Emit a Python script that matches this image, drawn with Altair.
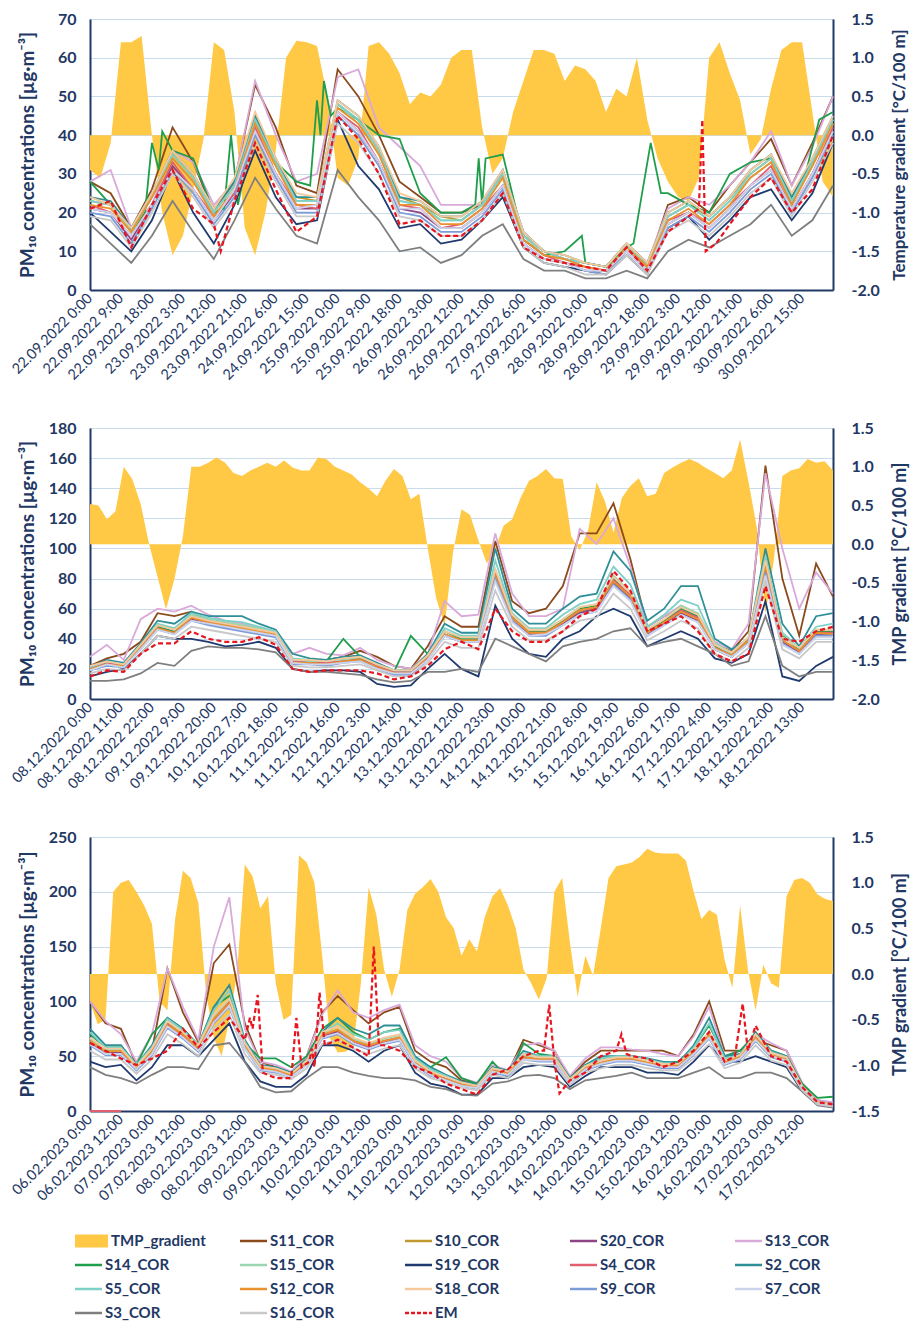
import altair as alt
import pandas as pd

FONT = "Lato"
NAVY = "#1F3864"
GRID = "#C9DCEB"
YELLOW = "#FFC845"
EM_COLOR = "#E8141E"

SERIES = ["S11_COR", "S10_COR", "S20_COR", "S13_COR", "S14_COR", "S15_COR", "S19_COR", "S4_COR",
          "S2_COR", "S5_COR", "S12_COR", "S18_COR", "S9_COR", "S7_COR", "S3_COR", "S16_COR", "EM"]
COLORS = ["#8B4A1C", "#C09A2E", "#8E4585", "#D9A9D9", "#1E9E4A", "#99D5B0", "#1F3A6E", "#E06070",
          "#2E8F96", "#7FD1C7", "#E8912D", "#F5C99B", "#7C9CD8", "#CDD3EA", "#7F7F7F", "#C8C8C8", EM_COLOR]

# ---------------- Panel 1: 22.09.2022 - 30.09.2022 ----------------
P1_START = (2022, 9, 22)
P1_TMP = [  # every 3 h
    -0.45, -0.55, -0.1, 1.2, 1.2, 1.28, 0.0, -1.0,
    -1.55, -1.3, -0.7, -0.05, 1.2, 1.1, 0.3, -1.2,
    -1.55, -1.0, -0.2, 1.0, 1.22, 1.2, 1.15, 0.5,
    -0.55, -0.65, -0.3, 1.15, 1.2, 1.05, 0.8, 0.4,
    0.55, 0.5, 0.65, 1.0, 1.1, 1.1, 0.1, -0.5,
    -0.3, 0.3, 0.7, 1.1, 1.1, 1.05, 0.7, 0.9,
    0.85, 0.7, 0.3, 0.6, 0.5, 1.0, 0.2, -0.3,
    -0.6, -0.8, -0.85, -0.55, 1.0, 1.2, 0.8, 0.45,
    -0.25, -0.05, 0.6, 1.1, 1.2, 1.2, 0.3, -0.6,
    -0.8]
P1 = {  # every 6 h
    "S11_COR": [28, 25, 16, 26, 42, 33, 20, 28, 53, 42, 27, 25, 57, 50, 40, 28, 24, 20, 20, 22,
                30, 14, 10, 8, 7, 6, 12, 6, 22, 24, 20, 27, 33, 39, 27, 38, 50],
    "S10_COR": [23, 22, 15, 24, 35, 29, 20, 27, 44, 33, 24, 23, 48, 44, 36, 24, 22, 19, 18, 22,
                30, 14, 10, 8, 7, 6, 12, 7, 19, 22, 19, 24, 30, 34, 24, 33, 44],
    "S20_COR": [21, 20, 13, 22, 32, 26, 18, 25, 41, 30, 21, 21, 46, 41, 33, 21, 20, 16, 16, 20,
                27, 12, 8, 7, 5, 5, 10, 5, 17, 20, 16, 21, 27, 31, 21, 30, 41],
    "S13_COR": [28, 31, 16, 22, 36, 33, 22, 28, 54, 40, 28, 30, 55, 57, 42, 37, 32, 22, 22, 22,
                31, 15, 10, 8, 7, 6, 12, 7, 21, 24, 22, 27, 33, 41, 27, 37, 50],
    "S15_COR": [23, 22, 15, 24, 34, 28, 20, 27, 43, 32, 23, 23, 48, 43, 35, 23, 22, 18, 18, 22,
                29, 14, 9, 8, 6, 5, 11, 6, 19, 22, 18, 23, 29, 33, 23, 32, 43],
    "S19_COR": [20, 15, 10, 18, 31, 20, 12, 22, 36, 24, 17, 18, 44, 32, 26, 16, 17, 12, 13, 18,
                24, 11, 7, 6, 5, 4, 9, 4, 16, 19, 13, 18, 24, 26, 18, 25, 38],
    "S4_COR": [22, 20, 14, 22, 33, 26, 19, 25, 42, 30, 22, 21, 46, 42, 33, 22, 21, 16, 17, 21,
               27, 13, 9, 7, 6, 5, 10, 6, 18, 20, 17, 22, 27, 32, 21, 30, 42],
    "S2_COR": [24, 23, 16, 25, 36, 30, 21, 28, 45, 34, 24, 24, 49, 45, 37, 24, 23, 19, 19, 23,
               31, 15, 10, 9, 7, 6, 12, 7, 20, 23, 19, 24, 31, 35, 24, 34, 45],
    "S5_COR": [23, 22, 15, 24, 35, 29, 20, 27, 44, 33, 23, 23, 48, 44, 36, 23, 22, 18, 18, 22,
               30, 14, 10, 8, 7, 6, 12, 6, 19, 22, 18, 23, 30, 34, 23, 33, 44],
    "S12_COR": [22, 21, 15, 24, 34, 28, 19, 26, 43, 32, 22, 22, 47, 43, 35, 22, 22, 17, 17, 21,
                29, 13, 9, 8, 6, 5, 11, 6, 18, 21, 17, 22, 29, 33, 22, 32, 43],
    "S18_COR": [24, 22, 16, 25, 36, 30, 21, 29, 46, 34, 25, 24, 49, 45, 37, 25, 23, 19, 19, 23,
                31, 15, 10, 9, 7, 6, 12, 7, 20, 23, 19, 24, 31, 35, 25, 34, 45],
    "S9_COR": [20, 19, 12, 21, 31, 25, 17, 24, 40, 29, 20, 20, 45, 40, 32, 20, 19, 15, 15, 19,
               26, 12, 8, 7, 5, 4, 10, 5, 16, 19, 15, 20, 26, 30, 20, 29, 40],
    "S7_COR": [21, 20, 14, 22, 31, 26, 18, 26, 41, 30, 21, 22, 46, 41, 33, 21, 21, 16, 16, 20,
               27, 12, 8, 7, 5, 5, 10, 5, 17, 20, 16, 21, 27, 31, 21, 30, 41],
    "S3_COR": [17, 12, 7, 14, 23, 15, 8, 18, 29, 21, 14, 12, 31, 24, 18, 10, 11, 7, 9, 14,
               17, 8, 5, 5, 3, 3, 5, 3, 10, 13, 11, 14, 17, 22, 14, 18, 27],
    "S16_COR": [19, 18, 11, 20, 30, 24, 16, 23, 38, 28, 19, 19, 43, 38, 30, 19, 18, 14, 14, 18,
                25, 11, 7, 6, 4, 4, 9, 4, 15, 18, 14, 19, 25, 29, 19, 28, 38],
}
# series read at irregular hours (hour, value) to keep narrow spikes
P1_S14 = [(0, 28), (6, 22), (12, 15), (16, 20), (18, 38), (20, 31), (21, 41), (24, 36), (30, 34),
          (36, 20), (39, 21), (41, 40), (43, 22), (48, 44), (54, 33), (60, 28), (64, 27), (66, 49),
          (67, 40), (68, 54), (70, 45), (72, 47), (78, 44), (84, 40), (90, 39), (96, 25), (102, 20),
          (108, 20), (112, 22), (113, 34), (114, 22), (115, 34), (120, 35), (126, 13), (132, 9),
          (138, 10), (143, 14), (144, 7), (150, 6), (156, 11), (158, 12), (163, 38), (166, 25),
          (168, 25), (174, 22), (180, 20), (186, 30), (192, 33), (198, 34), (204, 22), (208, 30),
          (212, 44), (216, 46)]
P1_EM = [(0, 21), (6, 23), (12, 11), (18, 22), (24, 31), (30, 21), (36, 17), (38, 10), (42, 23),
         (48, 38), (54, 26), (60, 15), (66, 19), (72, 45), (78, 39), (84, 30), (90, 17), (96, 18),
         (102, 14), (108, 14), (114, 18), (120, 25), (126, 11), (132, 8), (138, 7), (144, 6),
         (150, 5), (156, 11), (162, 5), (168, 15), (174, 19), (177, 21), (178, 44), (179, 10),
         (182, 12), (186, 17), (192, 24), (198, 29), (204, 20), (210, 26), (216, 40)]

# ---------------- Panel 2: 08.12.2022 - 18.12.2022 ----------------
P2_START = (2022, 12, 8)
P2_TMP = [
    0.52, 0.5, 0.32, 0.42, 1.0, 0.84, 0.52, 0.0,
    -0.42, -0.84, -0.45, 0.1, 1.0, 1.0, 1.05, 1.12,
    1.05, 0.92, 0.88, 0.95, 1.0, 1.05, 1.0, 1.08,
    0.99, 0.95, 0.95, 1.12, 1.1, 1.0, 0.95, 0.9,
    0.8, 0.72, 0.62, 0.82, 0.97, 0.88, 0.58, 0.65,
    -0.05, -0.7, -1.05, -0.1, 0.45, 0.38, 0.05, -0.25,
    -0.06, 0.24, 0.32, 0.6, 0.82, 0.88, 0.97, 0.85,
    0.84, 0.1, -0.08, 0.18, 0.8, 0.55, 0.15, 0.6,
    0.75, 0.85, 0.62, 0.65, 0.92, 0.99, 1.05, 1.1,
    1.05, 0.98, 0.92, 0.85, 0.95, 1.35, 0.8, 0.2,
    -0.9, -0.2, 0.88, 0.95, 0.98, 1.1, 1.05, 1.07,
    0.95]
P2 = {
    "S11_COR": [22, 27, 30, 38, 57, 55, 58, 52, 48, 47, 46, 42, 26, 26, 26, 28, 32, 28, 22, 20,
                35, 55, 48, 48, 105, 65, 57, 60, 75, 110, 110, 130, 93, 48, 55, 60, 55, 36, 32, 45,
                155, 80, 42, 90, 68],
    "S10_COR": [21, 25, 23, 36, 49, 46, 54, 52, 50, 48, 46, 43, 25, 25, 24, 26, 27, 22, 18, 18,
                28, 45, 40, 40, 84, 55, 44, 44, 51, 58, 60, 78, 68, 42, 50, 58, 52, 33, 28, 38,
                85, 38, 30, 42, 42],
    "S20_COR": [19, 23, 21, 34, 47, 44, 53, 50, 48, 46, 44, 42, 24, 24, 23, 25, 26, 21, 17, 17,
                27, 42, 38, 38, 80, 52, 43, 43, 50, 57, 60, 77, 67, 43, 50, 57, 52, 33, 28, 38,
                85, 38, 31, 43, 43],
    "S13_COR": [28, 36, 26, 53, 60, 58, 62, 56, 52, 50, 47, 42, 30, 34, 30, 29, 34, 26, 22, 20,
                30, 65, 55, 56, 110, 70, 55, 55, 60, 113, 103, 120, 88, 48, 55, 62, 56, 38, 33, 50,
                150, 100, 60, 84, 70],
    "S14_COR": [20, 25, 22, 36, 48, 45, 55, 52, 50, 48, 45, 42, 26, 25, 25, 40, 28, 22, 18, 42,
                30, 45, 40, 40, 82, 55, 45, 45, 52, 60, 62, 80, 68, 45, 52, 60, 55, 35, 30, 40,
                88, 42, 33, 45, 45],
    "S15_COR": [21, 24, 22, 35, 49, 46, 56, 53, 51, 49, 47, 44, 26, 25, 25, 26, 28, 23, 18, 18,
                29, 45, 41, 41, 86, 56, 46, 46, 53, 61, 63, 82, 71, 46, 53, 62, 57, 36, 30, 41,
                92, 41, 34, 46, 46],
    "S19_COR": [15, 18, 20, 30, 42, 40, 40, 38, 35, 36, 38, 34, 20, 18, 19, 19, 18, 10, 8, 9,
                20, 30, 20, 15, 62, 40, 30, 28, 40, 45, 55, 60, 55, 35, 40, 45, 40, 27, 24, 30,
                65, 15, 12, 22, 28],
    "S4_COR": [20, 24, 22, 35, 47, 44, 54, 51, 49, 47, 45, 43, 25, 24, 24, 25, 26, 22, 18, 18,
               28, 43, 39, 39, 83, 54, 44, 44, 51, 59, 61, 79, 69, 44, 51, 59, 54, 34, 29, 39,
               88, 39, 32, 44, 44],
    "S2_COR": [21, 26, 24, 37, 52, 50, 58, 55, 55, 55, 50, 46, 30, 27, 26, 28, 29, 24, 19, 19,
               30, 50, 44, 44, 100, 60, 50, 50, 60, 68, 70, 98, 85, 52, 60, 75, 75, 40, 33, 40,
               100, 50, 35, 55, 57],
    "S5_COR": [21, 25, 23, 36, 50, 47, 57, 54, 52, 51, 48, 45, 27, 26, 25, 27, 28, 23, 19, 19,
               29, 47, 42, 42, 92, 57, 47, 47, 56, 63, 66, 88, 76, 48, 56, 66, 62, 37, 31, 41,
               95, 44, 34, 48, 50],
    "S12_COR": [20, 23, 22, 34, 47, 44, 54, 51, 49, 47, 45, 43, 24, 24, 23, 25, 26, 21, 17, 17,
                27, 43, 39, 39, 82, 54, 44, 44, 51, 59, 61, 78, 68, 44, 51, 58, 53, 34, 29, 39,
                88, 39, 32, 44, 43],
    "S18_COR": [22, 25, 23, 36, 49, 46, 55, 52, 50, 48, 46, 44, 26, 26, 25, 27, 28, 23, 19, 19,
                29, 45, 41, 41, 86, 56, 46, 46, 53, 61, 63, 81, 71, 46, 53, 61, 56, 36, 31, 41,
                92, 41, 34, 46, 46],
    "S9_COR": [19, 22, 21, 33, 46, 43, 52, 49, 47, 45, 43, 41, 23, 23, 22, 24, 25, 20, 16, 16,
               26, 42, 38, 38, 80, 52, 42, 42, 49, 56, 58, 76, 66, 42, 49, 56, 51, 33, 28, 37,
               84, 37, 30, 42, 42],
    "S7_COR": [19, 23, 21, 33, 46, 43, 52, 50, 48, 46, 44, 42, 24, 23, 23, 24, 25, 20, 17, 17,
               26, 42, 38, 38, 78, 51, 42, 43, 49, 56, 58, 75, 65, 42, 49, 56, 51, 33, 28, 37,
               82, 36, 30, 41, 41],
    "S3_COR": [12, 12, 13, 17, 24, 22, 32, 35, 34, 34, 33, 31, 20, 18, 18, 17, 16, 13, 11, 12,
               18, 18, 20, 18, 40, 35, 30, 25, 35, 38, 40, 45, 47, 35, 38, 40, 35, 30, 22, 25,
               55, 22, 15, 18, 18],
    "S16_COR": [17, 20, 19, 30, 42, 40, 48, 46, 44, 42, 40, 38, 22, 21, 21, 22, 23, 19, 15, 15,
                24, 38, 34, 34, 72, 48, 39, 39, 45, 52, 54, 70, 60, 39, 45, 52, 47, 30, 25, 34,
                78, 33, 27, 38, 38],
    "EM": [15, 19, 18, 30, 37, 37, 45, 40, 38, 38, 41, 36, 20, 18, 19, 19, 19, 17, 13, 15,
           22, 33, 38, 33, 60, 45, 38, 38, 45, 55, 60, 85, 72, 45, 50, 55, 45, 30, 25, 30,
           75, 40, 38, 45, 48],
}

# ---------------- Panel 3: 06.02.2023 - 17.02.2023 ----------------
P3_START = (2023, 2, 6)
P3_TMP = [
    -0.3, -0.55, -0.5, 0.9, 1.0, 1.03, 0.9, 0.75,
    0.55, -0.3, -0.4, 0.6, 1.13, 1.05, 0.78, -0.2,
    -0.7, -0.9, -0.5, 0.0, 1.2, 1.07, 0.72, 0.85,
    -0.1, -0.5, -0.45, 1.3, 1.22, 1.0, 0.2, -0.7,
    -0.86, -0.85, -0.8, -0.1, 0.95, 0.65, 0.05, -0.25,
    0.05, 0.7, 0.88, 0.95, 1.04, 0.9, 0.62, 0.5,
    0.2, 0.38, 0.25, 0.62, 0.85, 0.94, 0.75, 0.5,
    0.05, -0.1, -0.28, -0.05, 0.9, 1.05, 0.35, -0.25,
    0.2, -0.02, 0.5, 1.05, 1.18, 1.2, 1.22, 1.28,
    1.37, 1.33, 1.32, 1.32, 1.32, 1.24, 0.9, 0.6,
    0.7, 0.65, 0.15, -0.15, 0.75, 0.05, -0.4, 0.1,
    -0.1, -0.15, 0.85, 1.03, 1.05, 1.0, 0.87, 0.82,
    0.8]
P3 = {
    "S11_COR": [100, 80, 75, 42, 55, 130, 90, 63, 135, 152, 80, 45, 40, 35, 50, 90, 105, 92, 80, 90,
                95, 55, 45, 40, 28, 25, 40, 35, 65, 60, 55, 30, 45, 55, 55, 55, 55, 55, 50, 70,
                100, 55, 55, 65, 60, 55, 25, 10, 7],
    "S10_COR": [66, 55, 55, 40, 55, 80, 70, 57, 83, 98, 60, 40, 37, 33, 44, 68, 73, 64, 58, 63,
                66, 44, 34, 29, 24, 21, 37, 34, 49, 47, 47, 27, 39, 44, 47, 47, 44, 41, 41, 53,
                68, 44, 49, 66, 51, 47, 21, 8, 6],
    "S20_COR": [62, 53, 53, 38, 53, 77, 67, 56, 82, 96, 58, 38, 36, 32, 43, 68, 72, 63, 58, 63,
                65, 43, 34, 29, 24, 21, 37, 34, 48, 46, 46, 27, 39, 43, 46, 46, 43, 40, 40, 53,
                68, 43, 48, 65, 50, 46, 21, 7, 5],
    "S13_COR": [100, 82, 70, 45, 70, 130, 95, 65, 150, 195, 75, 45, 42, 36, 50, 88, 110, 90, 85, 92,
                97, 60, 50, 45, 30, 26, 42, 37, 60, 62, 55, 32, 48, 58, 58, 56, 55, 52, 50, 68,
                95, 50, 55, 70, 62, 55, 26, 10, 8],
    "S14_COR": [70, 58, 58, 42, 70, 85, 75, 60, 95, 105, 62, 48, 48, 40, 50, 75, 85, 72, 65, 72,
                75, 48, 40, 49, 30, 25, 45, 30, 62, 52, 50, 30, 42, 48, 50, 50, 47, 44, 45, 58,
                78, 50, 55, 70, 55, 50, 25, 12, 13],
    "S15_COR": [66, 56, 56, 41, 56, 82, 72, 59, 87, 102, 61, 41, 39, 34, 46, 71, 77, 66, 61, 66,
                69, 46, 36, 31, 26, 23, 39, 36, 51, 49, 49, 29, 41, 46, 49, 49, 46, 43, 43, 56,
                72, 46, 51, 69, 53, 49, 23, 8, 6],
    "S19_COR": [45, 40, 42, 28, 40, 60, 60, 50, 65, 80, 45, 27, 22, 22, 33, 60, 60, 55, 45, 55,
                60, 35, 25, 22, 15, 15, 30, 30, 40, 42, 40, 22, 32, 40, 40, 40, 35, 35, 33, 45,
                60, 45, 45, 50, 45, 40, 18, 6, 4],
    "S4_COR": [0, 0, 0, None, 54, 79, 69, 57, 84, 99, 59, 39, 37, 32, 44, 69, 74, 64, 59, 64,
               67, 44, 34, 29, 24, 21, 37, 34, 49, 47, 47, 27, 39, 44, 47, 47, 44, 41, 41, 54,
               69, 44, 49, 67, 51, 47, 21, 7, 5],
    "S2_COR": [75, 60, 60, 42, 60, 85, 75, 60, 95, 115, 65, 42, 40, 35, 47, 72, 85, 75, 70, 78,
               78, 50, 40, 33, 27, 24, 40, 37, 55, 50, 50, 30, 42, 50, 50, 50, 48, 45, 44, 60,
               85, 50, 52, 72, 55, 50, 23, 8, 6],
    "S5_COR": [72, 58, 58, 42, 58, 84, 74, 60, 92, 110, 63, 41, 39, 34, 46, 71, 80, 70, 65, 72,
               74, 48, 38, 32, 26, 23, 39, 36, 53, 50, 50, 29, 41, 48, 50, 50, 47, 44, 43, 58,
               80, 48, 51, 70, 54, 49, 22, 8, 6],
    "S12_COR": [64, 54, 55, 39, 54, 78, 70, 57, 84, 98, 59, 40, 37, 33, 44, 70, 74, 64, 60, 64,
                67, 44, 35, 29, 24, 22, 37, 34, 49, 47, 48, 27, 39, 44, 47, 48, 44, 41, 42, 54,
                69, 44, 50, 67, 51, 47, 21, 8, 6],
    "S18_COR": [67, 57, 57, 41, 57, 82, 72, 60, 88, 103, 62, 41, 39, 34, 46, 72, 77, 67, 62, 67,
                70, 46, 36, 31, 26, 23, 39, 36, 52, 49, 49, 29, 41, 46, 49, 49, 46, 43, 43, 56,
                72, 46, 51, 70, 53, 49, 23, 8, 6],
    "S9_COR": [60, 51, 51, 37, 51, 76, 66, 54, 80, 95, 57, 37, 35, 31, 42, 66, 70, 61, 56, 61,
               64, 42, 32, 28, 23, 20, 35, 32, 47, 45, 45, 26, 37, 42, 45, 45, 42, 39, 39, 51,
               66, 42, 47, 64, 49, 45, 20, 7, 5],
    "S7_COR": [61, 52, 52, 38, 52, 77, 67, 55, 81, 96, 57, 38, 36, 31, 42, 67, 71, 62, 57, 62,
               65, 43, 33, 28, 23, 21, 36, 33, 47, 46, 46, 26, 38, 43, 46, 46, 43, 40, 40, 52,
               67, 43, 48, 65, 50, 46, 21, 7, 5],
    "S3_COR": [40, 33, 30, 25, 33, 40, 40, 38, 60, 62, 45, 22, 17, 18, 30, 40, 40, 35, 32, 30,
               30, 28, 22, 20, 15, 14, 25, 27, 32, 33, 30, 20, 28, 30, 32, 35, 30, 30, 30, 35,
               40, 30, 30, 35, 35, 30, 18, 5, 3],
    "S16_COR": [55, 47, 47, 34, 47, 70, 61, 50, 75, 88, 52, 35, 33, 29, 39, 61, 65, 57, 52, 57,
                60, 39, 30, 26, 21, 19, 33, 30, 44, 42, 42, 24, 35, 39, 42, 42, 39, 37, 37, 48,
                61, 39, 44, 60, 46, 42, 19, 6, 4],
}
P3_EM = [(0, 62), (6, 55), (12, 48), (18, 42), (24, 48), (30, 55), (36, 75), (42, 58), (48, 72),
         (54, 85), (60, 65), (62, 85), (63, 75), (65, 106), (67, 35), (72, 30), (78, 30), (80, 85),
         (82, 40), (85, 45), (86, 57), (87, 40), (89, 108), (91, 60), (96, 65), (102, 58), (108, 50),
         (110, 150), (112, 60), (114, 60), (120, 55), (126, 40), (132, 35), (138, 25), (144, 20),
         (150, 15), (156, 33), (162, 38), (168, 50), (174, 55), (176, 55), (178, 97), (180, 45),
         (182, 16), (186, 28), (192, 35), (198, 50), (204, 55), (206, 70), (208, 52), (210, 50),
         (216, 48), (222, 40), (228, 45), (234, 55), (240, 72), (246, 45), (250, 50), (253, 98),
         (255, 55), (258, 78), (264, 50), (270, 45), (276, 22), (282, 8), (288, 6)]

IRREGULAR = {
    1: {"S14_COR": P1_S14, "EM": P1_EM},
    2: {},
    3: {"EM": P3_EM},
}

LEGEND_ITEMS = ["TMP_gradient", "S11_COR", "S10_COR", "S20_COR", "S13_COR",
                "S14_COR", "S15_COR", "S19_COR", "S4_COR", "S2_COR",
                "S5_COR", "S12_COR", "S18_COR", "S9_COR", "S7_COR",
                "S3_COR", "S16_COR", "EM"]

PM_TITLE = "PM₁₀ concentrations [µg·m⁻³]"


def make_panel(start, tmp, lines, irregular, span_h, tick_step, ymax, ystep, tmin, rtitle,
               rtitle_size, width, height):
    t0 = pd.Timestamp(year=start[0], month=start[1], day=start[2])

    def ts(h):
        return (t0 + pd.Timedelta(hours=h)).strftime("%Y-%m-%dT%H:%M:%S")

    def dt(h):
        t = t0 + pd.Timedelta(hours=h)
        return alt.DateTime(year=t.year, month=t.month, date=t.day, hours=t.hour)

    tmp_df = pd.DataFrame({"time": [ts(3 * i) for i in range(len(tmp))], "tmp": tmp})
    rows = []
    for s in SERIES:
        if s in irregular:
            pts = irregular[s]
        else:
            pts = [(6 * i, v) for i, v in enumerate(lines[s])]
        for h, v in pts:
            rows.append({"time": ts(h), "series": s, "value": v})
    ldf = pd.DataFrame(rows)

    x = alt.X("time:T",
              scale=alt.Scale(domain=[dt(0), dt(span_h)]),
              axis=alt.Axis(values=[dt(k * tick_step) for k in range(24)],
                            format="%d.%m.%Y %-H:%M", labelAngle=315, labelAlign="right",
                            labelBaseline="middle", labelOverlap=False, labelFlush=False,
                            ticks=False, grid=False, domainColor=NAVY, domainWidth=2,
                            labelColor=NAVY, labelFont=FONT, labelFontSize=14.5,
                            labelPadding=6, title=None))

    tvals = []
    v = tmin
    while v <= 1.5001:
        tvals.append(round(v, 1))
        v += 0.5
    yright = alt.Y("tmp:Q",
                   scale=alt.Scale(domain=[tmin, 1.5], nice=False, zero=False),
                   axis=alt.Axis(orient="right", values=tvals,
                                 labelExpr="replace(format(datum.value, '.1f'), '\u2212', '-')",
                                 grid=False, ticks=False, domainColor=NAVY, domainWidth=2,
                                 labelColor=NAVY, labelFont=FONT, labelFontWeight="bold",
                                 labelFontSize=16, labelPadding=18,
                                 title=rtitle, titleAngle=270, titleBaseline="top",
                                 titleColor=NAVY, titleFont=FONT, titleFontWeight="bold",
                                 titleFontSize=rtitle_size, titlePadding=12))
    area = alt.Chart(tmp_df).mark_area(color=YELLOW, interpolate="linear", opacity=1).encode(
        x=x, y=yright, y2=alt.datum(0))

    yleft = alt.Y("value:Q",
                  scale=alt.Scale(domain=[0, ymax], nice=False),
                  axis=alt.Axis(orient="left", values=list(range(0, ymax + 1, ystep)),
                                grid=True, gridColor=GRID, gridWidth=1.2, ticks=False,
                                domainColor=NAVY, domainWidth=2,
                                labelColor=NAVY, labelFont=FONT, labelFontWeight="bold",
                                labelFontSize=16, labelPadding=14,
                                minExtent=45, maxExtent=45,
                                title=PM_TITLE, titleColor=NAVY, titleFont=FONT,
                                titleFontWeight="bold", titleFontSize=19,
                                titlePadding=8))
    station = alt.Chart(ldf[ldf.series != "EM"]).mark_line(
        strokeWidth=1.8, invalid="break-paths-show-domains").encode(
        x=x, y=yleft,
        color=alt.Color("series:N", scale=alt.Scale(domain=SERIES, range=COLORS), legend=None))
    em = alt.Chart(ldf[ldf.series == "EM"]).mark_line(
        color=EM_COLOR, strokeDash=[5, 3], strokeWidth=2.2).encode(x=x, y=yleft)

    return alt.layer(area, alt.layer(station, em)).resolve_scale(y="independent").properties(
        width=width, height=height)


p1 = make_panel(P1_START, P1_TMP, P1, IRREGULAR[1], 216, 9, 70, 10, -2.0,
                "Temperature gradient [°C/100 m]", 17, 743, 271)
p2 = make_panel(P2_START, P2_TMP, P2, IRREGULAR[2], 264, 11, 180, 20, -2.0,
                "TMP gradient [°C/100 m]", 18, 743, 271)
p3 = make_panel(P3_START, P3_TMP, P3, IRREGULAR[3], 288, 12, 250, 50, -1.5,
                "TMP gradient [°C/100 m]", 18, 743, 274)

# ---------------- custom legend (positions relative to the plot's left edge) ----------------
PAD_LEFT = 8
PLOT_LEFT = 90
LW, LH = 730, 96
leg_rows = []
for i, name in enumerate(LEGEND_ITEMS):
    r, c = divmod(i, 5)
    x0 = 75 - PLOT_LEFT + c * 165
    is_area = name == "TMP_gradient"
    x1 = x0 + (33 if is_area else 27)
    leg_rows.append({"name": name, "row": r, "x0": x0, "x1": x1, "xt": x1 + 3,
                     "top": r - 0.27, "bot": r + 0.27,
                     "kind": "area" if is_area else ("dash" if name == "EM" else "solid")})
leg = pd.DataFrame(leg_rows)
lx = alt.Scale(domain=[0, LW])
ly = alt.Scale(domain=[-0.5, 3.5], reverse=True)
leg_rect = alt.Chart(leg[leg.kind == "area"]).mark_rect(color=YELLOW).encode(
    x=alt.X("x0:Q", scale=lx, axis=None), x2="x1:Q",
    y=alt.Y("top:Q", scale=ly, axis=None), y2="bot:Q")
leg_line = alt.Chart(leg[leg.kind == "solid"]).mark_rule(strokeWidth=2.5).encode(
    x=alt.X("x0:Q", scale=lx, axis=None), x2="x1:Q",
    y=alt.Y("row:Q", scale=ly, axis=None),
    color=alt.Color("name:N", scale=alt.Scale(domain=SERIES, range=COLORS), legend=None))
leg_dash = alt.Chart(leg[leg.kind == "dash"]).mark_rule(strokeWidth=2.5, color=EM_COLOR,
                                                         strokeDash=[4, 2]).encode(
    x=alt.X("x0:Q", scale=lx, axis=None), x2="x1:Q",
    y=alt.Y("row:Q", scale=ly, axis=None))
leg_text = alt.Chart(leg).mark_text(align="left", baseline="middle", font=FONT, fontWeight="bold",
                                    fontSize=15, color=NAVY).encode(
    x=alt.X("xt:Q", scale=lx, axis=None), y=alt.Y("row:Q", scale=ly, axis=None), text="name:N")
legend = alt.layer(leg_rect, leg_line, leg_dash, leg_text).properties(
    width=LW, height=LH, view=alt.ViewBackground(stroke="transparent", strokeWidth=0))

panels = alt.vconcat(p1, p2, p3, spacing=36)
chart = alt.vconcat(panels, legend, spacing=25).configure_view(
    stroke="transparent", strokeWidth=0).configure(
    font=FONT, padding={"left": PAD_LEFT, "top": 10, "right": 0, "bottom": 0}, background="white")

chart.save("out.html", embed_options={"renderer": "svg", "actions": False})
